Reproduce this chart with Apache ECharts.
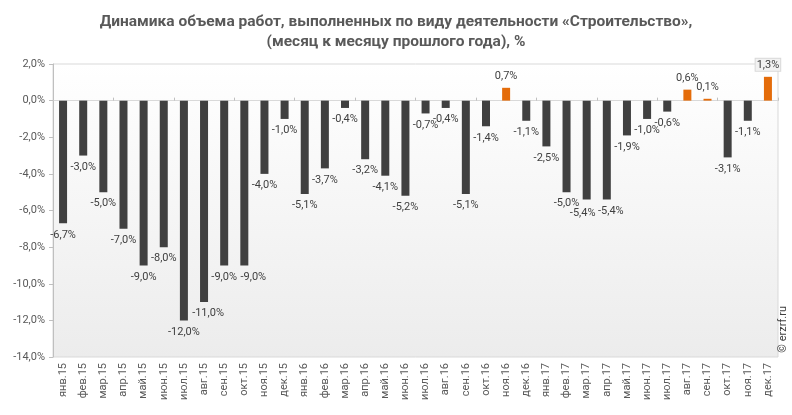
<!DOCTYPE html>
<html><head><meta charset="utf-8">
<script src="https://cdn.jsdelivr.net/npm/echarts@6/dist/echarts.min.js"></script>
<style>html,body{margin:0;padding:0;background:#fff}#c{width:792px;height:415px}</style>
</head><body><div id="c"></div>
<script>
const categories = ['янв.15','фев.15','мар.15','апр.15','май.15','июн.15','июл.15','авг.15','сен.15','окт.15','ноя.15','дек.15',
 'янв.16','фев.16','мар.16','апр.16','май.16','июн.16','июл.16','авг.16','сен.16','окт.16','ноя.16','дек.16',
 'янв.17','фев.17','мар.17','апр.17','май.17','июн.17','июл.17','авг.17','сен.17','окт.17','ноя.17','дек.17'];
const values = [-6.7,-3.0,-5.0,-7.0,-9.0,-8.0,-12.0,-11.0,-9.0,-9.0,-4.0,-1.0,
 -5.1,-3.7,-0.4,-3.2,-4.1,-5.2,-0.7,-0.4,-5.1,-1.4,0.7,-1.1,
 -2.5,-5.0,-5.4,-5.4,-1.9,-1.0,-0.6,0.6,0.1,-3.1,-1.1,1.3];
const yTicks = [-14,-12,-10,-8,-6,-4,-2,0,2];
const titleText = 'Динамика объема работ, выполненных по виду деятельности «Строительство»,\n(месяц к месяцу прошлого года), %';
const credit = '© erzrf.ru';
// label nudges (to mimic the reference's collision-avoided label placement)
const labelShift = {'авг.15': [4, 0], 'окт.15': [9, 0], 'мар.17': [-4, 2], 'апр.17': [4, 0]};

const fmt = v => v.toFixed(1).replace('.', ',') + '%';
const chart = echarts.init(document.getElementById('c'), null, {renderer: 'canvas'});
chart.setOption({
  animation: false,
  textStyle: {fontFamily: 'Roboto'},
  title: {text: titleText, left: 'center', top: 7,
    textStyle: {fontFamily: 'Roboto', fontSize: 15.5, fontWeight: 'bold', color: '#595959', lineHeight: 20}},
  graphic: [{type: 'text', left: 778, top: 306, rotation: Math.PI/2,
    style: {text: credit, fontSize: 11, fill: '#404040', fontFamily: 'Roboto'}}],
  grid: {left: 53, right: 14, top: 64, bottom: 58, show: true, borderColor: '#d9d9d9', borderWidth: 1,
    backgroundColor: new echarts.graphic.LinearGradient(0,0,0,1,[{offset:0,color:'#ffffff'},{offset:1,color:'#ececec'}])},
  xAxis: [{
    type: 'category', data: categories, position: 'bottom',
    axisLine: {onZero: true, lineStyle: {color: '#d9d9d9'}},
    axisTick: {show: true, inside: true, length: 3, lineStyle: {color: '#bfbfbf'}},
    axisLabel: {show: false}
  }, {
    type: 'category', data: categories, position: 'bottom',
    axisLine: {show: false, onZero: false}, axisTick: {show: false},
    axisLabel: {rotate: 90, interval: 0, fontSize: 11, color: '#595959', margin: 6}
  }],
  yAxis: {type: 'value', min: -14, max: 2, interval: 2,
    axisLine: {show: true, lineStyle: {color: '#bfbfbf'}},
    axisTick: {show: true, length: 4, lineStyle: {color: '#bfbfbf'}},
    splitLine: {show: false},
    axisLabel: {fontSize: 11, color: '#595959', margin: 8, formatter: v => yTicks.includes(v) ? fmt(v) : ''}},
  series: [{
    type: 'bar', xAxisIndex: 0, barWidth: 8,
    data: values.map((v, i) => {
      const d = {value: v, itemStyle: {color: v > 0 ? '#e46c0a' : '#404040'}};
      const s = labelShift[categories[i]];
      if (s) d.label = {offset: s};
      if (i === values.length - 1) d.label = {backgroundColor: '#f2f2f2', borderColor: '#d9d9d9', borderWidth: 1, padding: [1, 1, 0, 1]};
      return d;
    }),
    label: {show: true, position: 'outside', distance: 6, fontSize: 11, color: '#404040',
      formatter: p => fmt(p.value)}
  }]
});
</script></body></html>
